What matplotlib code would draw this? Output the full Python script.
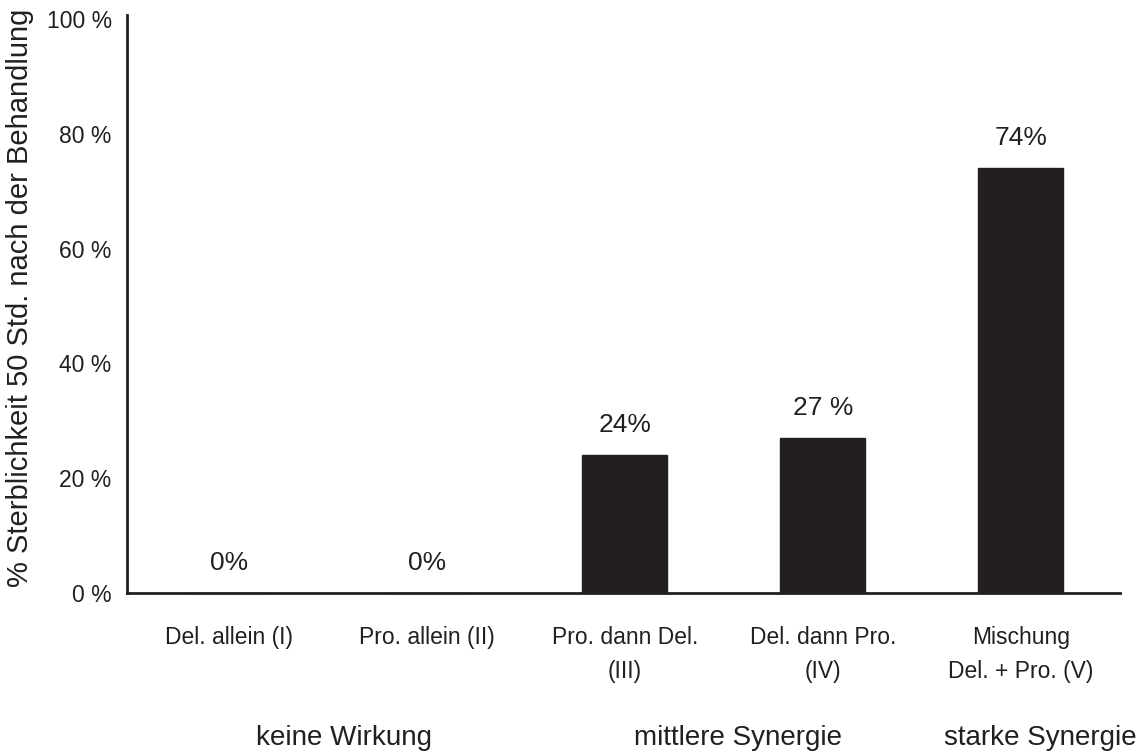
import matplotlib
matplotlib.use('Agg')
import matplotlib.pyplot as plt
import matplotlib.transforms as mtransforms

plt.rcParams['font.family'] = ['Liberation Sans', 'DejaVu Sans']

# data
categories = ['Del. allein (I)', 'Pro. allein (II)', 'Pro. dann Del.\n(III)',
              'Del. dann Pro.\n(IV)', 'Mischung\nDel. + Pro. (V)']
mortality = [0, 0, 24, 27, 74]
bar_labels = ['0%', '0%', '24%', '27 %', '74%']
y_ticks = [0, 20, 40, 60, 80, 100]
y_tick_labels = ['0 %', '20 %', '40 %', '60 %', '80 %', '100 %']
groups = ['keine Wirkung', 'mittlere Synergie', 'starke Synergie']
group_x = [0.58, 2.57, 4.10]

ink = '#231f20'

fig = plt.figure(figsize=(11.41, 7.53), dpi=100)
ax = fig.add_axes([0.1113, 0.2125, 0.870, 0.7676])

xs = list(range(len(categories)))
ax.bar(xs, mortality, width=0.43, color=ink, edgecolor=ink)

# value labels above the bars
for x, v, lab in zip(xs, mortality, bar_labels):
    ax.annotate(lab, (x, v), xytext=(0, 13), textcoords='offset points',
                ha='center', va='bottom', fontsize=19, color=ink)

ax.set_xlim(-0.515, 4.5)
ax.set_ylim(0, 100.7)

ax.set_yticks(y_ticks)
ax.set_yticklabels(y_tick_labels, fontsize=16.5, color=ink)
ax.set_xticks(xs)
ax.set_xticklabels(categories, fontsize=16.5, color=ink, linespacing=1.6)
ax.tick_params(axis='both', length=0)
ax.tick_params(axis='y', pad=11)
ax.tick_params(axis='x', pad=24)

for side in ['top', 'right']:
    ax.spines[side].set_visible(False)
for side in ['left', 'bottom']:
    ax.spines[side].set_color(ink)
    ax.spines[side].set_linewidth(2)

ax.set_ylabel('% Sterblichkeit 50 Std. nach der Behandlung', fontsize=21, color=ink)
ax.yaxis.set_label_coords(-0.094, 0.51)

# group captions below the categories
trans = mtransforms.blended_transform_factory(ax.transData, ax.transAxes)
for gx, g in zip(group_x, groups):
    ax.text(gx, -0.251, g, transform=trans, ha='center', va='center',
            fontsize=20, color=ink)

fig.savefig('out.png', dpi=100)
